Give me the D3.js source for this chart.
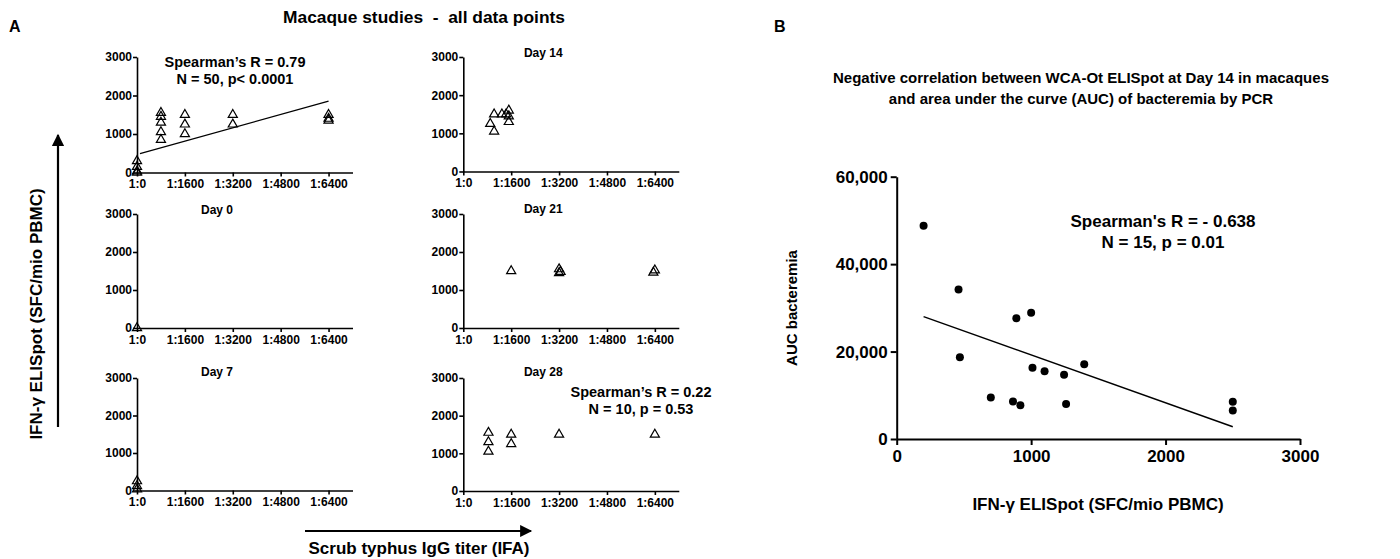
<!DOCTYPE html>
<html><head><meta charset="utf-8">
<script src="https://cdn.jsdelivr.net/npm/d3@7"></script>
<style>
html,body{margin:0;padding:0;background:#fff;}
svg{display:block;font-family:"Liberation Sans",Arial,sans-serif;font-weight:bold;}
text{white-space:pre;}
</style></head>
<body>
<script>
// ---------- DATA ----------
const titerTicks = [0, 1600, 3200, 4800, 6400];
const titerTickLabels = ["1:0", "1:1600", "1:3200", "1:4800", "1:6400"];
const elispotTicks = [0, 1000, 2000, 3000];

const allTiter  = [0, 0, 0, 0, 800, 800, 800, 800, 800, 1600, 1600, 1600, 3200, 3200, 6400, 6400, 6400];
const allSpots  = [300, 150, 30, 0, 1550, 1450, 1300, 1050, 850, 1500, 1250, 1000, 1500, 1250, 1500, 1400, 1350];
const allFitX   = [100, 6400];
const allFitY   = [490, 1855];

const day0Titer = [0];
const day0Spots = [0];
const day7Titer = [0, 0, 0];
const day7Spots = [250, 120, 30];
const day14Titer = [900, 1030, 1030, 1290, 1430, 1520, 1520, 1520];
const day14Spots = [1250, 1050, 1500, 1500, 1500, 1600, 1450, 1300];
const day21Titer = [1600, 3200, 3200, 3250, 6400, 6350];
const day21Spots = [1500, 1550, 1450, 1480, 1520, 1460];
const day28Titer = [840, 840, 840, 1600, 1600, 3200, 6400];
const day28Spots = [1550, 1300, 1050, 1500, 1250, 1500, 1500];

const bElispot = [200, 460, 470, 700, 865, 920, 890, 1000, 1010, 1100, 1245, 1260, 1395, 2500, 2500];
const bAUC     = [48800, 34200, 18700, 9500, 8600, 7700, 27600, 28900, 16300, 15500, 14700, 8000, 17100, 8500, 6500];
const bFitX    = [200, 2500];
const bFitY    = [28000, 2800];
const bXTicks  = [0, 1000, 2000, 3000];
const bYTicks  = [0, 20000, 40000, 60000];

// ---------- DRAW ----------
const W = 1400, H = 559;
const svg = d3.select("body").append("svg").attr("width", W).attr("height", H);

// Titles / labels
svg.append("text").attr("x", 9).attr("y", 32).attr("font-size", 16).text("A");
svg.append("text").attr("x", 774).attr("y", 32).attr("font-size", 16).text("B");
svg.append("text").attr("x", 424).attr("y", 23).attr("text-anchor", "middle").attr("font-size", 16)
  .attr("textLength", 282).attr("lengthAdjust", "spacingAndGlyphs")
  .text("Macaque studies  -  all data points");

// Panel A y arrow + label
svg.append("defs").append("marker").attr("id", "ah").attr("viewBox", "0 0 10 10")
  .attr("refX", 9).attr("refY", 5).attr("markerWidth", 6.5).attr("markerHeight", 5.5)
  .attr("markerUnits", "strokeWidth").attr("orient", "auto")
  .append("path").attr("d", "M0,0 L10,5 L0,10 Z").attr("fill", "#000");
svg.append("line").attr("x1", 58).attr("y1", 427).attr("x2", 58).attr("y2", 135)
  .attr("stroke", "#000").attr("stroke-width", 2.2).attr("marker-end", "url(#ah)");
svg.append("text").attr("transform", "translate(42,314) rotate(-90)").attr("text-anchor", "middle")
  .attr("font-size", 17).text("IFN-γ ELISpot (SFC/mio PBMC)");
svg.append("line").attr("x1", 305).attr("y1", 531).attr("x2", 531).attr("y2", 531)
  .attr("stroke", "#000").attr("stroke-width", 2.2).attr("marker-end", "url(#ah)");
svg.append("text").attr("x", 419).attr("y", 554).attr("text-anchor", "middle")
  .attr("font-size", 17).text("Scrub typhus IgG titer (IFA)");

function panelA(x0, yTop, yBot, titers, spots, title, titleY) {
  const x = d3.scaleLinear().domain([0, 7200]).range([x0, x0 + 215.5]);
  const y = d3.scaleLinear().domain([0, 3000]).range([yBot, yTop]);
  const g = svg.append("g");
  const ax = g.append("g").attr("transform", `translate(0,${yBot})`)
    .call(d3.axisBottom(x).tickValues(titerTicks).tickFormat((d, i) => titerTickLabels[i])
      .tickSize(4).tickSizeOuter(0).tickPadding(3));
  const ay = g.append("g").attr("transform", `translate(${x0},0)`)
    .call(d3.axisLeft(y).tickValues(elispotTicks).tickFormat(d3.format("d")).tickSize(4).tickSizeOuter(0).tickPadding(1));
  [ax, ay].forEach(a => {
    a.selectAll("path,line").attr("stroke", "#000").attr("stroke-width", 1.6);
    a.selectAll("text").attr("fill", "#000").attr("font-size", 12)
      .attr("font-family", "Liberation Sans,Arial,sans-serif").attr("font-weight", "bold");
  });
  if (title) g.append("text").attr("x", x0 + 80).attr("y", titleY).attr("text-anchor", "middle")
    .attr("font-size", 12).text(title);
  const sym = d3.symbol().type(d3.symbolTriangle).size(36);
  g.selectAll("path.pt").data(titers).join("path").attr("class", "pt")
    .attr("d", sym).attr("transform", (d, i) => `translate(${x(d)},${y(spots[i])})`)
    .attr("fill", "none").attr("stroke", "#000").attr("stroke-width", 1.2);
  return { g, x, y };
}

const p1 = panelA(137, 57, 172.5, allTiter, allSpots, null, 0);
p1.g.append("line").attr("x1", p1.x(allFitX[0])).attr("y1", p1.y(allFitY[0]))
  .attr("x2", p1.x(allFitX[1])).attr("y2", p1.y(allFitY[1])).attr("stroke", "#000").attr("stroke-width", 1.3);
p1.g.append("text").attr("x", 235).attr("y", 67).attr("text-anchor", "middle").attr("font-size", 14.5).text("Spearman’s R = 0.79");
p1.g.append("text").attr("x", 235).attr("y", 84).attr("text-anchor", "middle").attr("font-size", 14.5).text("N = 50, p< 0.0001");

panelA(463.3, 57, 171.5, day14Titer, day14Spots, "Day 14", 57);
panelA(137, 214, 328, day0Titer, day0Spots, "Day 0", 214);
panelA(463.3, 214, 328, day21Titer, day21Spots, "Day 21", 213);
panelA(137, 378, 490.5, day7Titer, day7Spots, "Day 7", 376);
const p6 = panelA(463.3, 378, 491, day28Titer, day28Spots, "Day 28", 376);
p6.g.append("text").attr("x", 641).attr("y", 397).attr("text-anchor", "middle").attr("font-size", 14.5).text("Spearman’s R = 0.22");
p6.g.append("text").attr("x", 641).attr("y", 414).attr("text-anchor", "middle").attr("font-size", 14.5).text("N = 10, p = 0.53");

// ---------- Panel B ----------
svg.append("text").attr("x", 1081).attr("y", 83).attr("text-anchor", "middle").attr("font-size", 15)
  .text("Negative correlation between WCA-Ot ELISpot at Day 14 in macaques");
svg.append("text").attr("x", 1081).attr("y", 104).attr("text-anchor", "middle").attr("font-size", 15)
  .text("and area under the curve (AUC) of bacteremia by PCR");

const bx = d3.scaleLinear().domain([0, 3000]).range([896.7, 1300]);
const by = d3.scaleLinear().domain([0, 60000]).range([439, 176.7]);
const gB = svg.append("g");
const bax = gB.append("g").attr("transform", `translate(0,${by(0)})`)
  .call(d3.axisBottom(bx).tickValues(bXTicks).tickSize(6).tickSizeOuter(0).tickPadding(5).tickFormat(d3.format("d")));
const bay = gB.append("g").attr("transform", `translate(${bx(0)},0)`)
  .call(d3.axisLeft(by).tickValues(bYTicks).tickSize(6).tickSizeOuter(0).tickPadding(3).tickFormat(d3.format(",")));
[bax, bay].forEach(a => {
  a.selectAll("path,line").attr("stroke", "#000").attr("stroke-width", 2);
  a.selectAll("text").attr("fill", "#000").attr("font-size", 17)
    .attr("font-family", "Liberation Sans,Arial,sans-serif").attr("font-weight", "bold");
});
gB.selectAll("circle").data(bElispot).join("circle")
  .attr("cx", d => bx(d)).attr("cy", (d, i) => by(bAUC[i])).attr("r", 4).attr("fill", "#000");
gB.append("line").attr("x1", bx(bFitX[0])).attr("y1", by(bFitY[0]))
  .attr("x2", bx(bFitX[1])).attr("y2", by(bFitY[1])).attr("stroke", "#000").attr("stroke-width", 1.5);
gB.append("text").attr("x", 1163).attr("y", 227).attr("text-anchor", "middle").attr("font-size", 17).text("Spearman's R = - 0.638");
gB.append("text").attr("x", 1163).attr("y", 248).attr("text-anchor", "middle").attr("font-size", 17).text("N = 15, p = 0.01");
gB.append("text").attr("transform", "translate(797,308) rotate(-90)").attr("text-anchor", "middle")
  .attr("font-size", 15).text("AUC bacteremia");
gB.append("text").attr("x", 1098).attr("y", 510).attr("text-anchor", "middle")
  .attr("font-size", 17).text("IFN-γ ELISpot (SFC/mio PBMC)");
</script>
</body></html>
